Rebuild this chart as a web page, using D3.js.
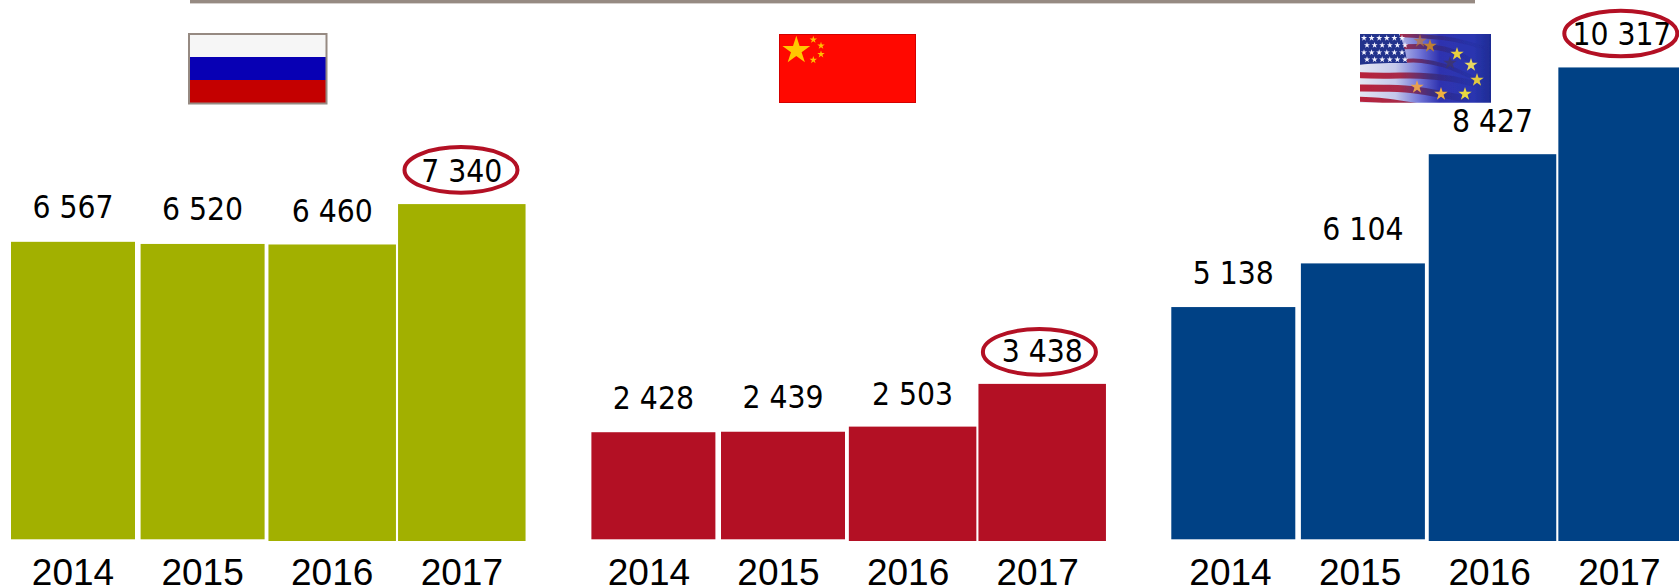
<!DOCTYPE html>
<html><head><meta charset="utf-8">
<script src="https://cdn.jsdelivr.net/npm/d3@7/dist/d3.min.js"></script>
<style>html,body{margin:0;padding:0;background:#fff;overflow:hidden}svg{display:block}</style>
</head><body><svg id="c" width="1679" height="587"></svg>
<script>
// ---- data ----
const years = ["2014","2015","2016","2017"];
const russia = [6567,6520,6460,7340];
const china  = [2428,2439,2503,3438];
const usaEu  = [5138,6104,8427,10317];
const highlightYear = "2017";
const maxValue = 10317;

// ---- layout (per panel) ----
const panels = [
  {values:russia, color:"#a2b000", firstCentre:73,     yearShift:0,    pxEarly:.0453, pxLate:.0459, ringDx:-0.8, ringDy:-12.2},
  {values:china,  color:"#b31024", firstCentre:653.4,  yearShift:-4.5, pxEarly:.0441, pxLate:.0457, ringDx:-2.8, ringDy:-10},
  {values:usaEu,  color:"#004185", firstCentre:1233.3, yearShift:-2.8, pxEarly:.0452, pxLate:.0459, ringDx:-1.3, ringDy:-12}
];
const step = 129.6;
const barWidths = [124,124,127.5,127.5];
const earlyBase = 539.3, lateBase = 541;
const labelGaps = [23.5,23.5,22,22];
const yearBaseline = 584.5;

const fmt = v => d3.format(",")(v).replace(/,/g," ");
const svg = d3.select("#c");
const defs = svg.append("defs");

svg.append("rect").attr("x",190).attr("y",0).attr("width",1285).attr("height",3.4).attr("fill","#968a82");

panels.forEach(p=>{
  const x = d3.scaleBand().domain(years)
    .range([p.firstCentre-step/2, p.firstCentre+step*3.5]);
  const yEarly = d3.scaleLinear().domain([0,maxValue]).range([earlyBase, earlyBase-maxValue*p.pxEarly]);
  const yLate  = d3.scaleLinear().domain([0,maxValue]).range([lateBase,  lateBase -maxValue*p.pxLate]);
  const yOf = i => i<2 ? yEarly : yLate;
  const centre = d => x(d)+x.bandwidth()/2;
  const rows = years.map((year,i)=>({year,value:p.values[i],i}));

  svg.append("g").selectAll("rect").data(rows).join("rect")
    .attr("x",d=>centre(d.year)-barWidths[d.i]/2)
    .attr("width",d=>barWidths[d.i])
    .attr("y",d=>yOf(d.i)(d.value))
    .attr("height",d=>yOf(d.i)(0)-yOf(d.i)(d.value))
    .attr("fill",p.color);

  svg.append("g").selectAll("text").data(rows).join("text")
    .attr("x",d=>centre(d.year))
    .attr("y",d=>yOf(d.i)(d.value)-labelGaps[d.i])
    .attr("text-anchor","middle")
    .style("font-family","'DejaVu Sans'").style("font-stretch","condensed")
    .style("font-size","31.5px").attr("fill","#000")
    .text(d=>fmt(d.value));

  const hi = rows.find(d=>d.year===highlightYear);
  svg.append("ellipse")
    .attr("cx",centre(hi.year)+p.ringDx)
    .attr("cy",yOf(hi.i)(hi.value)-labelGaps[hi.i]+p.ringDy)
    .attr("rx",56.5).attr("ry",22.8)
    .attr("fill","none").attr("stroke","#b31024").attr("stroke-width",4);

  const axis = d3.axisBottom(x).tickSize(0);
  const g = svg.append("g").attr("transform",`translate(${p.yearShift},${yearBaseline})`).call(axis);
  g.select(".domain").remove();
  g.selectAll("text").attr("y",0).attr("dy",0)
    .style("font-family","'Liberation Sans'").style("font-size","37px").attr("fill","#000");
});

// ---- flags ----
const star = (g,cx,cy,r,fill,op=1)=>g.append("path")
  .attr("d",d3.symbol(d3.symbolStar,Math.PI*r*r*0.42)())
  .attr("transform",`translate(${cx},${cy})`).attr("fill",fill).attr("opacity",op);

// Russia
const ru = svg.append("g");
[["#f6f6f6",34,23],["#0800b4",57,23],["#c40000",80,23]].forEach(([c,y,h])=>
  ru.append("rect").attr("x",189).attr("y",y).attr("width",137.5).attr("height",h).attr("fill",c));
ru.append("rect").attr("x",189).attr("y",34).attr("width",137.5).attr("height",69.5)
  .attr("fill","none").attr("stroke","#968a82").attr("stroke-width",2);

// China
const cn = svg.append("g");
cn.append("rect").attr("x",779.5).attr("y",34.5).attr("width",136).attr("height",68)
  .attr("fill","#ff0800").attr("stroke","#d40000").attr("stroke-width",1);
star(cn,796.3,50.5,13.5,"#ffc800");
[[813.3,39.7],[821,45.7],[821,54.3],[813.3,60]].forEach(([a,b])=>star(cn,a,b,3.6,"#ffc000"));

// US / EU
const fx=1360, fy=34, fw=131, fh=68.7;
const clip = defs.append("clipPath").attr("id","fc");
clip.append("rect").attr("x",fx).attr("y",fy).attr("width",fw).attr("height",fh);
defs.append("filter").attr("id","soft").attr("x","-5%").attr("y","-5%").attr("width","110%").attr("height","110%")
  .append("feGaussianBlur").attr("stdDeviation",0.5);
const gr = defs.append("linearGradient").attr("id","fbg");
[[0,"#e6e8f4"],[.28,"#c4c8ea"],[.45,"#7478d8"],[.6,"#2f33b0"],[.85,"#2a35b0"],[1,"#1c2a8e"]]
  .forEach(([o,c])=>gr.append("stop").attr("offset",o).attr("stop-color",c));
const gs = defs.append("linearGradient").attr("id","fstripe");
[[0,"#b8223c",1],[.3,"#a82a48",1],[.55,"#3c2a78",.9],[.8,"#20268c",.3],[1,"#20268c",0]]
  .forEach(([o,c,a])=>gs.append("stop").attr("offset",o).attr("stop-color",c).attr("stop-opacity",a));
defs.select("#fstripe").attr("gradientUnits","userSpaceOnUse").attr("x1",fx).attr("x2",fx+fw).attr("y1",0).attr("y2",0);
const clipG = svg.append("g").attr("clip-path","url(#fc)");
const us = clipG.append("g").attr("filter","url(#soft)");
us.append("rect").attr("x",fx-3).attr("y",fy-3).attr("width",fw+6).attr("height",fh+6).attr("fill","url(#fbg)");
const wave = d3.line().curve(d3.curveBasis);
const stripes = [
  [[[40,1],[60,2],[85,4],[105,8],[131,16]],4],
  [[[40,13],[60,12],[85,14],[105,22],[120,34]],5],
  [[[44,27],[60,26],[85,31],[105,40],[120,47]],4],
  [[[-4,41],[30,42],[60,41],[90,44],[115,50]],6],
  [[[-4,54],[30,54],[60,56],[90,62],[110,66]],7],
  [[[-4,65],[20,66],[40,69],[60,72]],5]
];
stripes.forEach(([pts,w])=>us.append("path")
  .attr("d",wave(pts.map(([a,b])=>[fx+a,fy+b])))
  .attr("fill","none").attr("stroke","url(#fstripe)").attr("stroke-width",w));
us.append("path")
  .attr("d",`M${fx-3},${fy-3}H${fx+37}C${fx+43},${fy+6} ${fx+46},${fy+18} ${fx+47},${fy+29}C${fx+30},${fy+29} ${fx+15},${fy+29} ${fx-3},${fy+31}Z`)
  .attr("fill","#22308c");
d3.range(4).forEach(r=>d3.range(6).forEach(c=>
  star(us,fx+4+c*7.6+(r%2)*3,fy+4+r*7.2,3,"#f4f4ff")));
[[70,12,"#c08030",1],[97,20,"#e8d040",1],[111,31,"#e8d860",1],[117,46,"#e0c840",1],
 [105,60,"#e8d840",1],[81,60,"#f0b040",1],[57,53,"#e8a050",1],[60,7,"#c07838",.7],[90,29,"#403860",.7]]
 .forEach(([a,b,col,o])=>star(us,fx+a,fy+b,6.5,col,o));
</script></body></html>
